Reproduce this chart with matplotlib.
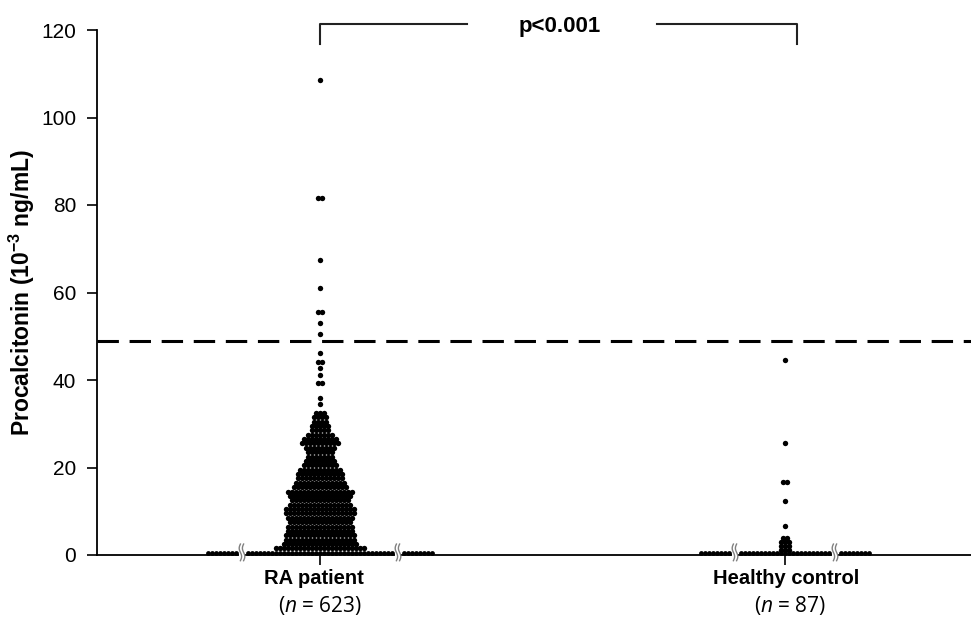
import numpy as np
import matplotlib
matplotlib.use('Agg')
import matplotlib.pyplot as plt
from matplotlib.patches import Rectangle

plt.rcParams['font.family'] = ['Liberation Sans', 'DejaVu Sans']
plt.rcParams['mathtext.fontset'] = 'custom'
plt.rcParams['mathtext.rm'] = 'Open Sans'
plt.rcParams['mathtext.it'] = 'Open Sans:italic'
plt.rcParams['mathtext.bf'] = 'Liberation Sans:bold'

# --- данные (10^-3 ng/mL), уровни и число точек на уровне ---
groups = ["RA patient", "Healthy control"]
group_n = [623, 87]

ra_values = [1.5, 2.5, 3.5, 4.5, 5.5, 6.5, 7.5, 8.5, 9.5, 10.5, 11.5, 12.5, 13.5,
             14.5, 15.5, 16.5, 17.5, 18.5, 19.5, 20.5, 21.5, 22.5, 23.5, 24.5,
             25.5, 26.5, 27.5, 28.5, 29.5, 30.5, 31.5, 32.5,
             34.5, 36.0, 39.3, 41.1, 42.7, 44.1, 46.2, 50.5, 53.0, 55.5, 61.0,
             67.4, 81.6, 108.6]
ra_counts = [23, 19, 18, 18, 17, 17, 16, 17, 18, 18, 16, 15, 16,
             17, 14, 13, 12, 12, 11, 9, 8, 7, 7, 8,
             10, 9, 7, 5, 5, 4, 4, 3,
             1, 1, 2, 1, 1, 2, 1, 1, 1, 2, 1,
             1, 2, 1]
ra_zero = 623 - sum(ra_counts)

hc_values = [1.2, 2.1, 3.0, 3.9, 6.6, 12.4, 16.7, 25.7, 44.6]
hc_counts = [3, 3, 3, 2, 1, 1, 2, 1, 1]
hc_zero = 87 - sum(hc_counts)

cutoff = 49.0
p_text = "p<0.001"

# --- оформление ---
DX = 4.0 / 465          # шаг точек по x
DOT_S = 15
ZERO_Y = 0.45
TAIL = 8


def swarm(ax, center, values, counts):
    xs, ys = [], []
    for v, n in zip(values, counts):
        off = (np.arange(n) - (n - 1) / 2) * DX
        xs.extend(center + off)
        ys.extend([v] * n)
    ax.scatter(xs, ys, s=DOT_S, c='black', linewidths=0, zorder=3, clip_on=False)


def break_mark(ax, xb):
    ax.add_patch(Rectangle((xb - 0.8 * DX, -1.4), 1.6 * DX, 4.0, facecolor='white',
                           edgecolor='none', zorder=4, clip_on=False))
    t = np.linspace(0, 1, 40)
    yy = -1.3 + 3.8 * t
    for s in (-0.4, 0.4):
        ax.plot(xb + s * DX + 0.3 * DX * np.sin(2 * np.pi * t), yy, color='#808080',
                lw=1.0, zorder=5, clip_on=False)


def zero_row(ax, center, n, core):
    half = (core - 1) / 2
    offs = list(np.arange(core) - half)
    if n > core + 2 * TAIL:
        tail = half + 3 + np.arange(TAIL)
        offs += list(tail) + list(-tail)
        break_mark(ax, center - (half + 1.5) * DX)
        break_mark(ax, center + (half + 1.5) * DX)
    xs = center + np.array(offs) * DX
    ax.scatter(xs, [ZERO_Y] * len(xs), s=DOT_S * 0.8, c='black', linewidths=0,
               zorder=3, clip_on=False)


fig = plt.figure(figsize=(9.71, 6.17), dpi=100)
ax = fig.add_axes([97 / 971, 1 - 555 / 617, 1 - 97 / 971, 525 / 617])

swarm(ax, 1, ra_values, ra_counts)
zero_row(ax, 1, ra_zero, 37)
swarm(ax, 2, hc_values, hc_counts)
zero_row(ax, 2, hc_zero, 23)

ax.axhline(cutoff, color='black', lw=2.2, dashes=(7, 3.5), zorder=2)

ax.set_xlim(1 - 223 / 465, 2 + 186 / 465)
ax.set_ylim(0, 120)
ax.set_yticks(range(0, 121, 20))
ax.set_xticks([1, 2])
ax.set_xticklabels([])
for s in ('top', 'right'):
    ax.spines[s].set_visible(False)
for s in ('left', 'bottom'):
    ax.spines[s].set_linewidth(1.3)
ax.tick_params(axis='both', direction='out', length=7, width=1.2, labelsize=15,
               colors='black', pad=8)
ax.set_ylabel(r'Procalcitonin (10$^{\mathbf{-3}}$ ng/mL)', fontsize=16.5,
              fontweight='bold', labelpad=3)

# подписи групп
name_dx = [-0.013, 0.002]
n_dx = [0.0, 0.01]
for i, (name, n) in enumerate(zip(groups, group_n)):
    x = i + 1
    ax.text(x + name_dx[i], -5.4, name, ha='center', va='center', fontsize=14.5,
            fontweight='bold', clip_on=False)
    ax.text(x + n_dx[i], -11.5, r'($\mathit{n}$ = %d)' % n, ha='center', va='center',
            fontsize=15, family='Open Sans', clip_on=False)

# скобка со значимостью
yb, yl = 121.4, 116.8
kw = dict(color='#222222', lw=1.5, clip_on=False)
ax.plot([1, 1, 1.316], [yl, yb, yb], **kw)
ax.plot([1.725, 2.026, 2.026], [yb, yb, yl], **kw)
ax.text(1.515, 120.8, p_text, ha='center', va='center', fontsize=16,
        fontweight='bold', clip_on=False)

fig.savefig('out.png', dpi=100)
